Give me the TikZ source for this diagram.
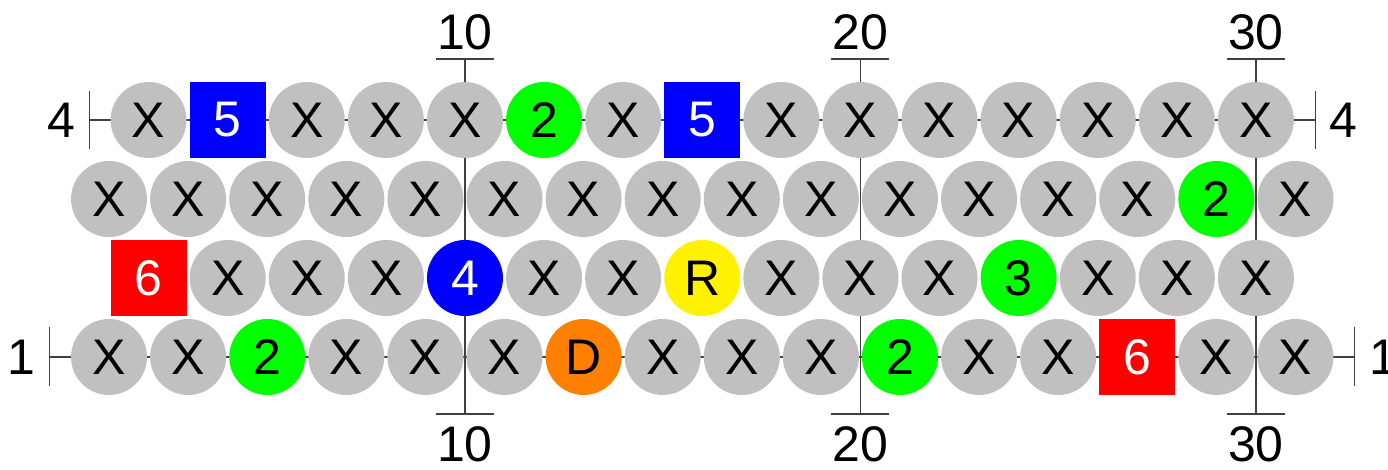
\documentclass[tikz,border=0pt]{standalone}
\usepackage{fontspec}
\setmainfont{Liberation Sans}
\usepackage{xcolor}
\usetikzlibrary{positioning}

\definecolor{cellgrey}{HTML}{C0C0C0}
\definecolor{celllime}{HTML}{00FF00}
\definecolor{cellorange}{HTML}{FF8000}

\begin{document}
\begin{tikzpicture}[
  x=19.775pt,y=39.5pt,
  cell/.style={circle,inner sep=0pt,minimum size=38pt,font=\fontsize{25}{30}\selectfont,fill=cellgrey},
  gc/.style={cell,fill=celllime},
  bc/.style={cell,fill=blue,text=white},
  yc/.style={cell,fill=yellow},
  oc/.style={cell,fill=cellorange},
  rs/.style={cell,rectangle,fill=red,text=white},
  bs/.style={cell,rectangle,fill=blue,text=white},
  xc/.style={cell},
  rule/.style={draw=black!75,line width=0.6pt},
  lbl/.style={inner sep=0pt,font=\fontsize{25}{30}\selectfont}
]
\useasboundingbox (-1.757,-0.418) rectangle (33.34,5.519);

% column markers
\foreach \c in {10,20,30} {
  \coordinate (top\c) at (\c,4.772);
  \coordinate (bot\c) at (\c,0.278);
  \draw[rule] (top\c) -- (bot\c);
  \draw[rule] ([xshift=-14.5pt]top\c) -- ([xshift=14.5pt]top\c);
  \draw[rule] ([xshift=-14.5pt]bot\c) -- ([xshift=14.5pt]bot\c);
  \node[lbl,above=4.5pt of top\c] (ctop\c) {\c};
  \node[lbl,below=6pt of bot\c] (cbot\c) {\c};
}

% row markers
\coordinate (r1w) at (-0.5,1);
\coordinate (r1e) at (32.5,1);
\coordinate (r4w) at (0.5,4);
\coordinate (r4e) at (31.5,4);
\foreach \r in {r1,r4} {
  \draw[rule] (\r w) -- (\r e);
  \draw[rule] ([yshift=-14.75pt]\r w) -- ([yshift=14.75pt]\r w);
  \draw[rule] ([yshift=-14.75pt]\r e) -- ([yshift=14.75pt]\r e);
}
\node[lbl,left=7pt of r1w] (lab1w) {1};
\node[lbl,right=7pt of r1e] (lab1e) {1};
\node[lbl,left=7pt of r4w] (lab4w) {4};
\node[lbl,right=7pt of r4e] (lab4e) {4};

% cells
\foreach \t/\s [count=\i] in {X/xc,X/xc,2/gc,X/xc,X/xc,X/xc,D/oc,X/xc,X/xc,X/xc,2/gc,X/xc,X/xc,6/rs,X/xc,X/xc}
  \node[\s] (a\i) at ({2*\i-1},1) {\t};
\foreach \t/\s [count=\i] in {6/rs,X/xc,X/xc,X/xc,4/bc,X/xc,X/xc,R/yc,X/xc,X/xc,X/xc,3/gc,X/xc,X/xc,X/xc}
  \node[\s] (b\i) at ({2*\i},2) {\t};
\foreach \t/\s [count=\i] in {X/xc,X/xc,X/xc,X/xc,X/xc,X/xc,X/xc,X/xc,X/xc,X/xc,X/xc,X/xc,X/xc,X/xc,2/gc,X/xc}
  \node[\s] (c\i) at ({2*\i-1},3) {\t};
\foreach \t/\s [count=\i] in {X/xc,5/bs,X/xc,X/xc,X/xc,2/gc,X/xc,5/bs,X/xc,X/xc,X/xc,X/xc,X/xc,X/xc,X/xc}
  \node[\s] (d\i) at ({2*\i},4) {\t};
\end{tikzpicture}
\end{document}
